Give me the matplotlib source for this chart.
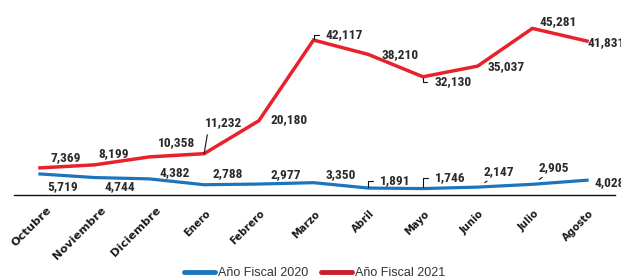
import matplotlib
matplotlib.use("Agg")
import matplotlib.pyplot as plt
from matplotlib.lines import Line2D
import matplotlib.transforms as mtransforms
from matplotlib import font_manager

months = ["Octubre", "Noviembre", "Diciembre", "Enero", "Febrero", "Marzo",
          "Abril", "Mayo", "Junio", "Julio", "Agosto"]
fy2020 = [5719, 4744, 4382, 2788, 2977, 3350, 1891, 1746, 2147, 2905, 4028]
fy2021 = [7369, 8199, 10358, 11232, 20180, 42117, 38210, 32130, 35037, 45281, 41831]
series_names = ["Año Fiscal 2020", "Año Fiscal 2021"]

BLUE = "#1C75BC"
RED = "#E8212B"
RED_LEG = "#C8202F"

names = {f.name for f in font_manager.fontManager.ttflist}
cands = ["Roboto Condensed", "Liberation Sans Narrow", "Archivo Narrow",
         "DejaVu Sans Condensed", "Roboto"]
narrow = [c for c in cands if c in names] or ["DejaVu Sans"]
NARROW = narrow[0]

fig = plt.figure(figsize=(6.21, 2.80), dpi=100)
ax = fig.add_axes([14/621, 1-195/280, (615-14)/621, 195/280])
x = list(range(len(months)))
ax.plot(x, fy2020, color=BLUE, lw=2.3, solid_joinstyle="miter", zorder=2)
ax.plot(x, fy2021, color=RED, lw=2.5, solid_joinstyle="miter", zorder=2)
ax.set_xlim(-0.475, 10.51)
ax.set_ylim(0, 53000)

for s in ["top", "right", "left"]:
    ax.spines[s].set_visible(False)
ax.spines["bottom"].set_linewidth(1.0)
ax.spines["bottom"].set_color("#111111")
ax.set_yticks([])
ax.set_xticks(x)
ax.set_xticklabels(months)
ax.tick_params(axis="x", length=0, pad=7)
for i, lab in enumerate(ax.get_xticklabels()):
    big = i < 3
    dxp = 6 if big else 1
    dyp = 0 if big else -4
    off = mtransforms.ScaledTranslation(dxp/100, dyp/100, fig.dpi_scale_trans)
    lab.set_rotation(45)
    lab.set_ha("right")
    lab.set_va("top")
    lab.set_rotation_mode("anchor")
    lab.set_fontweight("bold")
    lab.set_family("DejaVu Sans")
    lab.set_fontsize(8.2 if big else 7.2)
    lab.set_color("#1a1a1a")
    lab.set_transform(lab.get_transform() + off)

# size the condensed label font so "7,369" is ~31 px wide, like the reference
renderer = fig.canvas.get_renderer()
probe = fig.text(0, 0, "7,369", family=NARROW, fontweight="bold", fontsize=10)
w = probe.get_window_extent(renderer).width
probe.remove()
LSIZE = max(8.0, min(11.0, 10 * 30.5 / w))

LBL = dict(family=NARROW, fontweight="bold",
           fontsize=LSIZE, color="#2a2a2a", zorder=5)

# (dx, dy) in pixels from point to label centre, style
red_off = [(26, 10, None), (19, 11, None), (27, 14, None), (19, 31, "diag"),
           (30, 1, None), (31, 5, "brk_up"), (32, 0, None), (30, -5, "brk_dn"),
           (29, -1, None), (26, 7, None), (0, -2, "left")]
blue_off = [(23, -13, None), (25, -9, None), (25, 6, None), (24, 11, None),
            (27, 9, None), (27, 8, None), (27, 7, "brk_up"), (27, 11, "brk_up"),
            (21, 16, "diag2"), (21, 17, "diag2"), (7, -2, "left")]

def label(vals, offs):
    for i, (v, (dx, dy, st)) in enumerate(zip(vals, offs)):
        txt = f"{v:,}"
        kw = dict(xy=(i, v), xytext=(dx, dy), textcoords="offset pixels",
                  ha="center", va="center", **LBL)
        if st == "left":
            kw["ha"] = "left"
        if st == "diag":
            kw["arrowprops"] = dict(arrowstyle="-", color="#111111", lw=0.8,
                                    shrinkA=2, shrinkB=0, relpos=(0.1, 0))
        elif st == "diag2":
            kw["arrowprops"] = dict(arrowstyle="-", color="#111111", lw=0.8,
                                    shrinkA=1, shrinkB=6, relpos=(0.3, 0))
        elif st in ("brk_up", "brk_dn"):
            kw["arrowprops"] = dict(arrowstyle="-", color="#111111", lw=0.8,
                                    connectionstyle="angle,angleA=0,angleB=90,rad=0",
                                    shrinkA=3, shrinkB=1, relpos=(0, 0.5))
        ax.annotate(txt, **kw)

label(fy2021, red_off)
label(fy2020, blue_off)

handles = [Line2D([], [], color=BLUE, lw=3.5, solid_capstyle="round"),
           Line2D([], [], color=RED_LEG, lw=3.5, solid_capstyle="round")]
fig.legend(handles, series_names, loc="center", bbox_to_anchor=(0.507, 0.025),
           bbox_transform=fig.transFigure, ncol=2, frameon=False,
           prop=dict(family="Liberation Sans", size=9), labelcolor="#333333",
           handlelength=2.5, handletextpad=0.25, columnspacing=1.0)

fig.savefig("out.png", dpi=100)
